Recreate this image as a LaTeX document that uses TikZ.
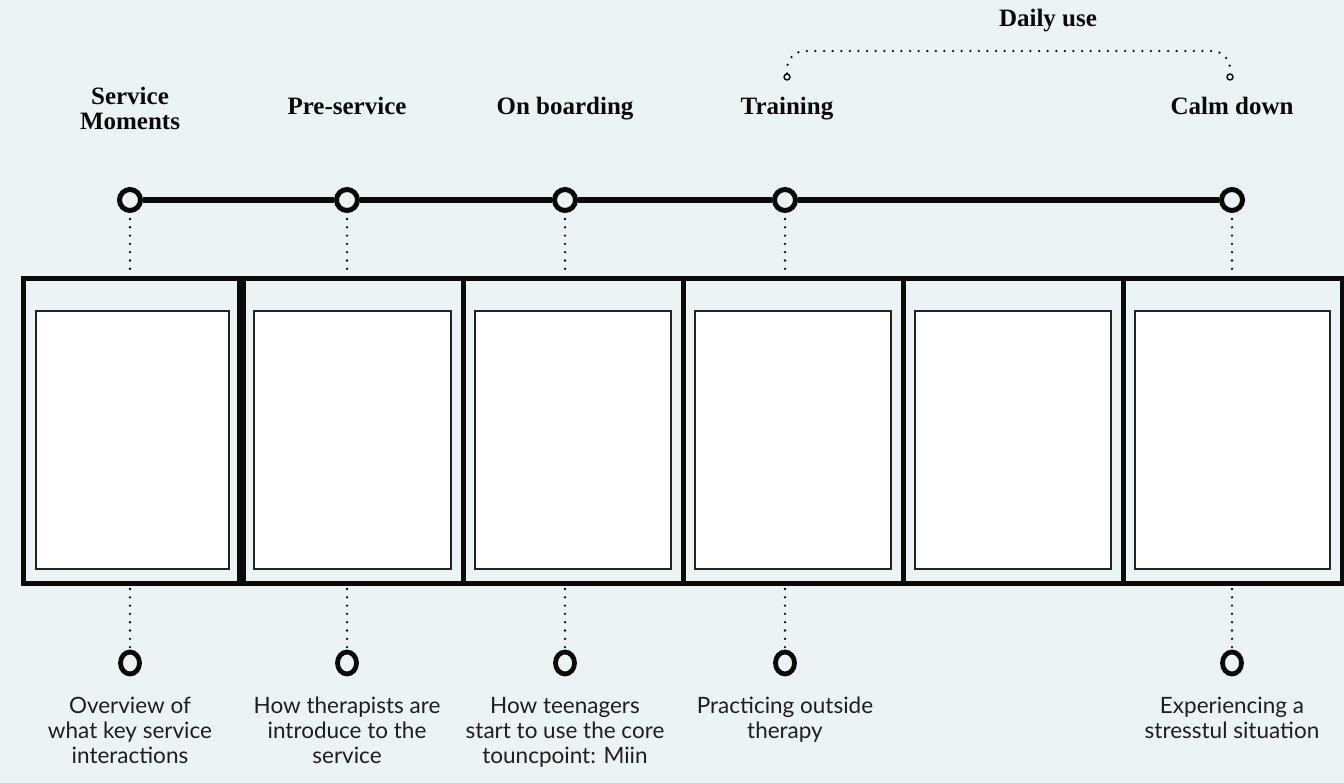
\documentclass[tikz,border=0pt]{standalone}
\usepackage{fontspec}
\usetikzlibrary{shapes.geometric}
\setmainfont{Liberation Serif}
\newfontfamily\notefont{Lato}
\begin{document}
\definecolor{paper}{RGB}{235,243,245}
\definecolor{ink}{RGB}{10,10,10}
\begin{tikzpicture}[x=1pt,y=-1pt,
  frame/.style={draw=ink,line width=5pt,fill=paper},
  card/.style={draw=ink!90,line width=2.2pt,fill=white},
  dotline/.style={draw=ink,line width=2.6pt,line cap=round,dash pattern=on 0pt off 8.3pt},
  thindots/.style={draw=ink,line width=2.5pt,line cap=round,dash pattern=on 0pt off 8.6pt},
  hub/.style={circle,draw=ink,line width=5pt,fill=paper,minimum size=21pt,inner sep=0pt},
  pin/.style={ellipse,draw=ink,line width=4.8pt,fill=paper,minimum width=19pt,minimum height=22pt,inner sep=0pt},
  tick/.style={circle,draw=ink,line width=1.4pt,fill=paper,minimum size=6pt,inner sep=0pt},
  phase/.style={font=\fontsize{25}{28}\selectfont\bfseries,text=ink,align=center,inner sep=0pt},
  note/.style={font=\notefont\fontsize{22.5}{25}\selectfont,text=ink!92,align=center,inner sep=0pt,anchor=north}
]
\useasboundingbox (0,0) rectangle (1344,783);
\fill[paper] (0,0) rectangle (1344,783);

% phase headings
\node[phase] (h1) at (130,108) {Service\\[-3pt]Moments};
\node[phase,anchor=base] (h2) at (347,115) {Pre-service};
\node[phase,anchor=base] (h3) at (565,115) {On boarding};
\node[phase,anchor=base] (h4) at (787,115) {Training};
\node[phase,anchor=base] (h5) at (1232,115) {Calm down};
\node[phase,anchor=base] (daily) at (1048,27) {Daily use};

% bracket grouping the daily-use phases
\node[tick] (d1) at (787,77) {};
\node[tick] (d2) at (1230,77) {};
\draw[thindots,rounded corners=18pt] (d1.north) |- (1230,51) -- (d2.north);

% frames with their cards
\foreach \xl/\xr [count=\i] in {23.5/241.5,241.5/463,463/683,683/903,903/1123,1123/1342}{
  \draw[frame] (\xl,279) rectangle (\xr,583);
}
\draw[ink,line width=9pt] (241.5,276.5) -- (241.5,585.5);
\foreach \xl/\xr [count=\i] in {23.5/241.5,241.5/463,463/683,683/903,903/1123,1123/1342}{
  \node[card,minimum width={\xr-\xl-24.5},minimum height=258pt,inner sep=0pt] (c\i) at ({(\xl+\xr)/2},440) {};
}

% timeline
\foreach \x/\n in {130/1,347/2,565/3,785/4,1232/5}{
  \coordinate (top\n) at (\x,276);
  \coordinate (bot\n) at (\x,586);
}
\node[hub] (t1) at (130,200) {};
\node[hub] (t2) at (347,200) {};
\node[hub] (t3) at (565,200) {};
\node[hub] (t4) at (785,200) {};
\node[hub] (t5) at (1232,200) {};
\draw[ink,line width=5.5pt] (t1) -- (t2) (t2) -- (t3) (t3) -- (t4) (t4) -- (t5);
\foreach \n in {1,...,5}{
  \draw[dotline] ([yshift=-6pt]t\n.south) -- ([yshift=3pt]top\n);
}

% descriptions below the frames
\node[pin] (b1) at (130,663) {};
\node[pin] (b2) at (347,663) {};
\node[pin] (b3) at (565,663) {};
\node[pin] (b4) at (785,663) {};
\node[pin] (b5) at (1232,663) {};
\foreach \n in {1,...,5}{
  \draw[dotline] ([yshift=-3pt]bot\n) -- ([yshift=-5pt]b\n.north);
}
\node[note] (n1) at (130,697) {Overview of\\what key service\\interactions};
\node[note] (n2) at (347,697) {How therapists are\\introduce to the\\service};
\node[note] (n3) at (565,697) {How teenagers\\start to use the core\\touncpoint: Miin};
\node[note] (n4) at (785,697) {Practicing outside\\therapy};
\node[note] (n5) at (1232,697) {Experiencing a\\stresstul situation};
\end{tikzpicture}
\end{document}
